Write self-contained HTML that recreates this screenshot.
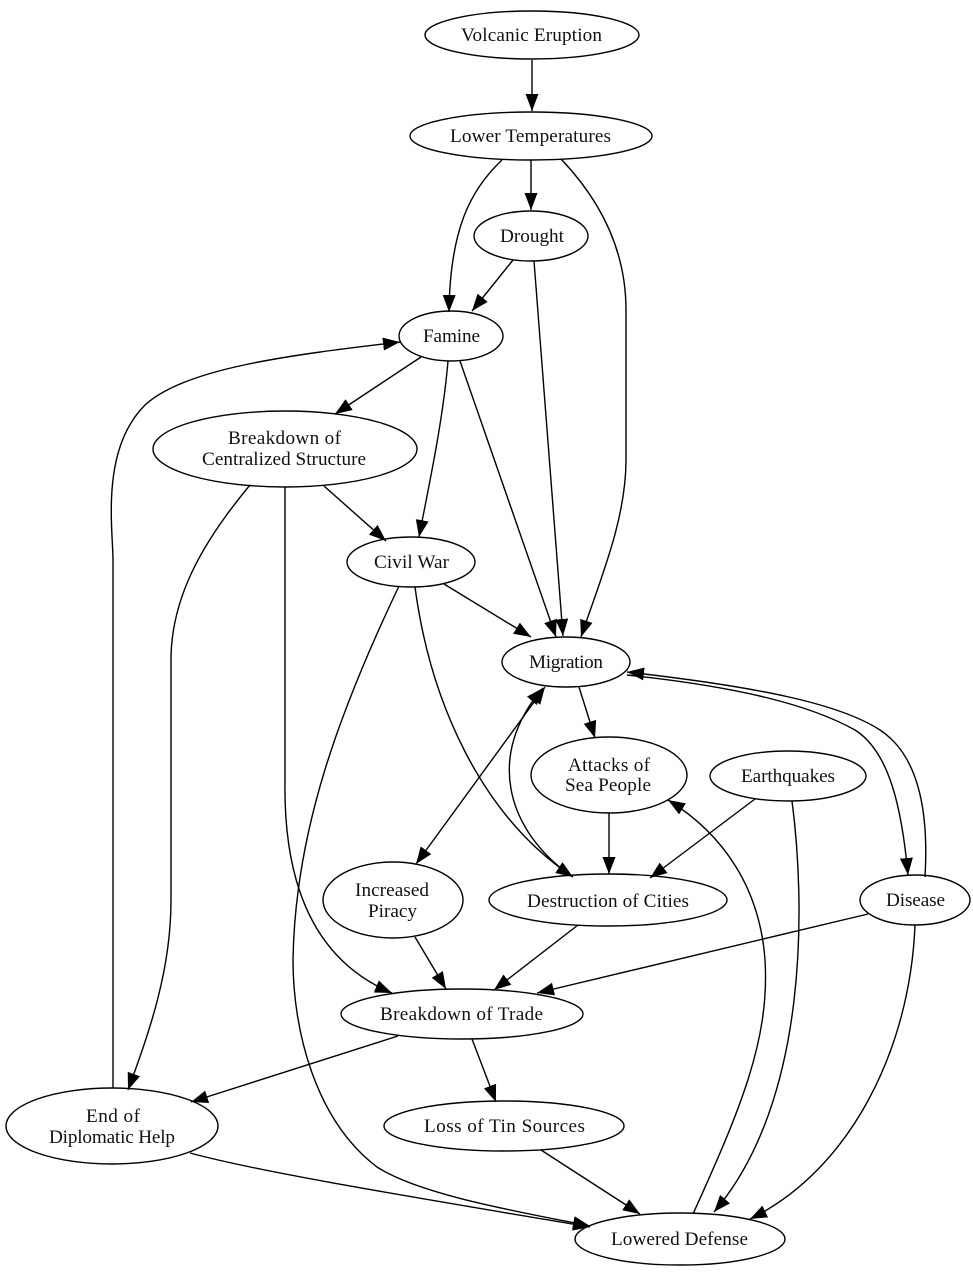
<!DOCTYPE html>
<html>
<head>
<meta charset="utf-8">
<style>
html,body{margin:0;padding:0;background:#fff;width:973px;height:1280px;overflow:hidden}
svg{display:block;filter:blur(.35px)}
text{font-family:"Liberation Serif",serif;font-size:19.2px;fill:#111;text-anchor:middle}
ellipse{fill:none;stroke:#000;stroke-width:1.4}
path{fill:none;stroke:#000;stroke-width:1.4}
path.a{marker-end:url(#ah)}
path.b{marker-end:url(#ah);marker-start:url(#as)}
</style>
</head>
<body>
<svg width="973" height="1280" viewBox="0 0 973 1280" xmlns="http://www.w3.org/2000/svg">
<defs>
<marker id="ah" markerUnits="userSpaceOnUse" markerWidth="20" markerHeight="16" refX="17" refY="7" orient="auto"><polygon points="0,0.5 17,7 0,13.5" fill="#000"/></marker>
<marker id="as" markerUnits="userSpaceOnUse" markerWidth="20" markerHeight="16" refX="0" refY="7" orient="auto"><polygon points="17,0.5 0,7 17,13.5" fill="#000"/></marker>
</defs>

<ellipse cx="532" cy="35" rx="107" ry="24"/>
<ellipse cx="531" cy="136" rx="121" ry="24"/>
<ellipse cx="531" cy="236" rx="57" ry="25"/>
<ellipse cx="451" cy="336" rx="52" ry="25"/>
<ellipse cx="285" cy="449" rx="132" ry="38"/>
<ellipse cx="411" cy="562" rx="64" ry="25"/>
<ellipse cx="566" cy="662" rx="64" ry="25"/>
<ellipse cx="609" cy="775" rx="78" ry="38"/>
<ellipse cx="788" cy="776" rx="78" ry="25"/>
<ellipse cx="393" cy="900" rx="70" ry="38"/>
<ellipse cx="608" cy="900" rx="119" ry="26"/>
<ellipse cx="915" cy="900" rx="55" ry="25"/>
<ellipse cx="462" cy="1014" rx="121" ry="25"/>
<ellipse cx="112" cy="1126" rx="106" ry="38"/>
<ellipse cx="504" cy="1126" rx="120" ry="25"/>
<ellipse cx="680" cy="1239" rx="105" ry="26"/>

<text x="531.5" y="41" textLength="141">Volcanic Eruption</text>
<text x="530.5" y="142" textLength="161">Lower Temperatures</text>
<text x="532" y="242" textLength="64">Drought</text>
<text x="451.5" y="342" textLength="57">Famine</text>
<text x="284.5" y="444" textLength="113">Breakdown of</text>
<text x="284" y="465" textLength="164">Centralized Structure</text>
<text x="411.5" y="568" textLength="75">Civil War</text>
<text x="566" y="668" textLength="74">Migration</text>
<text x="609" y="771" textLength="82">Attacks of</text>
<text x="608" y="791" textLength="86">Sea People</text>
<text x="788" y="782" textLength="94">Earthquakes</text>
<text x="392" y="896" textLength="74">Increased</text>
<text x="392.5" y="917" textLength="49">Piracy</text>
<text x="608" y="907" textLength="162">Destruction of Cities</text>
<text x="915.5" y="906" textLength="59">Disease</text>
<text x="461.5" y="1020" textLength="163">Breakdown of Trade</text>
<text x="113" y="1122" textLength="54">End of</text>
<text x="112" y="1143" textLength="126">Diplomatic Help</text>
<text x="504.5" y="1132" textLength="161">Loss of Tin Sources</text>
<text x="679.5" y="1245" textLength="137">Lowered Defense</text>

<path class="a" d="M532,60 L532,111"/>
<path class="a" d="M502,160 C470,190 450,230 449,312"/>
<path class="a" d="M531,160 L531,210"/>
<path class="a" d="M561,159 C600,200 626,250 626,310 V460 C626,520 600,580 581,637"/>
<path class="a" d="M513,260 L472,311"/>
<path class="a" d="M534,261 L563,636"/>
<path class="a" d="M421,357 L335,414"/>
<path class="a" d="M448,361 C443,420 430,480 419,537"/>
<path class="a" d="M460,361 L556,637"/>
<path class="a" d="M324,486 L386,541"/>
<path class="a" d="M285,487 V780 C283,900 325,965 392,993"/>
<path class="a" d="M250,485 C200,545 171,600 171,660 V900 C171,970 150,1030 128,1090"/>
<path class="a" d="M444,584 L531,637"/>
<path class="a" d="M415,587 C430,700 480,815 573,877"/>
<path class="a" d="M399,586 C340,710 295,830 293,960 C293,1030 315,1120 377,1167 C420,1195 520,1212 590,1226"/>
<path class="a" d="M579,687 L595,738"/>
<path class="b" d="M545,687 L416,864"/>
<path class="a" d="M570,875 C507,830 485,755 543,688"/>
<path class="a" d="M925,877 C929,810 918,755 880,730 C840,704 760,687 627,672"/>
<path class="a" d="M627,675 C740,687 810,705 855,730 C890,752 902,810 908,875"/>
<path class="a" d="M609,813 L609,874"/>
<path class="a" d="M755,799 L650,878"/>
<path class="a" d="M792,801 C805,900 810,1100 714,1212"/>
<path class="a" d="M868,914 L537,993"/>
<path class="a" d="M915,925 C910,1050 850,1170 750,1219"/>
<path class="a" d="M578,925 L494,990"/>
<path class="a" d="M415,937 L446,989"/>
<path class="a" d="M398,1036 L191,1102"/>
<path class="a" d="M472,1039 L496,1102"/>
<path class="a" d="M113,1088 V560 C113,530 100,450 145,405 C185,368 290,355 400,342"/>
<path class="a" d="M190,1153 C260,1172 400,1195 590,1227"/>
<path class="a" d="M541,1150 L640,1214"/>
<path class="a" d="M693,1214 C740,1110 770,1040 765,960 C760,890 725,835 668,800"/>
</svg>
</body>
</html>
